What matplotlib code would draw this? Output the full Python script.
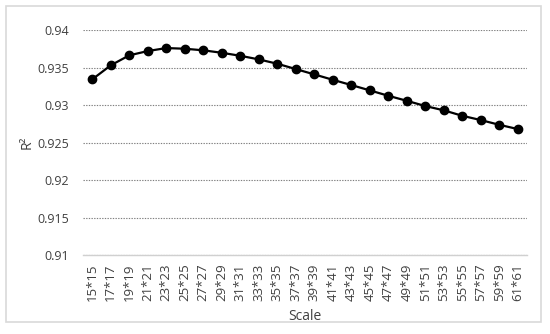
import numpy as np
import matplotlib
matplotlib.use('Agg')
import matplotlib.pyplot as plt
from matplotlib.patches import Rectangle

scales = ['%d*%d' % (s, s) for s in range(15, 62, 2)]
r2 = [0.93343, 0.9353, 0.93663, 0.9372, 0.9376, 0.93751, 0.9373, 0.93697,
      0.93657, 0.93609, 0.93551, 0.9348, 0.93409, 0.93337, 0.93267, 0.93196,
      0.93124, 0.93057, 0.92987, 0.9293, 0.92857, 0.928, 0.92737, 0.9268]
yticks = [0.91, 0.915, 0.92, 0.925, 0.93, 0.935, 0.94]
ytick_labels = ['0.91', '0.915', '0.92', '0.925', '0.93', '0.935', '0.94']

plt.rcParams['font.family'] = ['Open Sans', 'DejaVu Sans']

fig = plt.figure(figsize=(5.5, 3.34), dpi=100)
ax = fig.add_axes([0.151, 0.2365, 0.807, 0.6735])

x = np.arange(len(scales))
ax.plot(x, r2, color='black', lw=1.6, marker='o', ms=6, zorder=3)

ax.set_xlim(-0.5, len(scales) - 0.5)
ax.set_ylim(0.91, 0.94)
ax.set_yticks(yticks)
ax.set_yticklabels(ytick_labels)
ax.set_xticks(x)
ax.set_xticklabels(scales, rotation=90)
ax.tick_params(axis='both', length=0, labelsize=9.5, colors='#404040')
ax.tick_params(axis='y', pad=10, labelsize=9)
ax.tick_params(axis='x', pad=6)

ax.grid(axis='y', linestyle=(0, (1.2, 1.2)), color='#7f7f7f', lw=0.8)
ax.set_axisbelow(True)
for s in ['left', 'right', 'top']:
    ax.spines[s].set_visible(False)
ax.spines['bottom'].set_color('#d0d0d0')
ax.spines['bottom'].set_linewidth(1.0)

ax.set_ylabel('R²', fontsize=10, color='#404040')
ax.yaxis.set_label_coords(-0.11, 0.5)
ax.set_xlabel('Scale', fontsize=10, color='#404040', labelpad=6)

fig.patches.append(Rectangle((6 / 550, 12 / 334), 535 / 550, 316 / 334,
                             transform=fig.transFigure, fill=False,
                             edgecolor='#d9d9d9', lw=1.2))

fig.savefig('out.png', dpi=100)
